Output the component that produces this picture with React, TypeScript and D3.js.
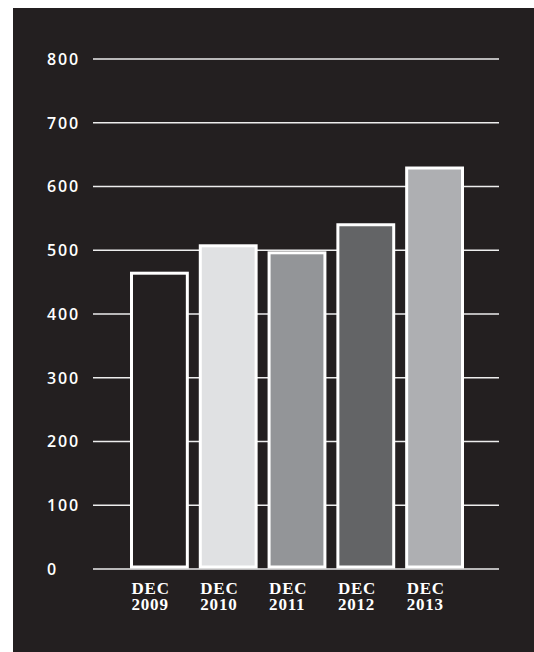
import React from "react";
import * as d3 from "d3";

const categories = ["2009", "2010", "2011", "2012", "2013"];
const monthLabel = "DEC";
const values = [464, 507, 496, 540, 629];
const barColors = ["#231f20", "#e0e1e3", "#939598", "#636466", "#aeafb2"];
const yTicks = [0, 100, 200, 300, 400, 500, 600, 700, 800];

const W = 534;
const H = 652;
const BG = "#231f20";

export default function App() {
  const y = d3.scaleLinear().domain([0, 800]).range([569, 59]);
  const x = d3
    .scaleBand<string>()
    .domain(categories)
    .range([131.5, 462.5])
    .paddingInner(13 / 69)
    .paddingOuter(0);
  const base = y(0) - 2;

  return (
    <svg
      width={W}
      height={H}
      style={{ position: "absolute", left: 0, top: 0, display: "block" }}
    >
      <rect x={0} y={0} width={W} height={H} fill="#ffffff" />
      <rect x={13} y={8} width={W - 13} height={H - 8} fill={BG} />
      {yTicks.map((t) => (
        <g key={t}>
          <line
            x1={93}
            x2={499}
            y1={y(t)}
            y2={y(t)}
            stroke="#ededed"
            strokeWidth={1.6}
          />
          <text
            x={47}
            y={y(t)}
            dy="0.36em"
            fill="#ffffff"
            style={{ fontFamily: "Open Sans, sans-serif", fontWeight: 600, fontSize: "16px", letterSpacing: "1.8px" }}
          >
            {t}
          </text>
        </g>
      ))}
      {categories.map((c, i) => (
        <rect
          key={c}
          x={x(c)}
          y={y(values[i])}
          width={x.bandwidth()}
          height={base - y(values[i])}
          fill={barColors[i]}
          stroke="#ffffff"
          strokeWidth={3}
        />
      ))}
      {categories.map((c) => (
        <text
          key={"l" + c}
          x={x(c) as number}
          y={594}
          fill="#ffffff"
          style={{ fontFamily: "Liberation Serif, serif", fontWeight: 700, fontSize: "17px", letterSpacing: "0.8px" }}
        >
          <tspan x={x(c) as number}>{monthLabel}</tspan>
          <tspan x={x(c) as number} dy={16}>
            {c}
          </tspan>
        </text>
      ))}
    </svg>
  );
}
